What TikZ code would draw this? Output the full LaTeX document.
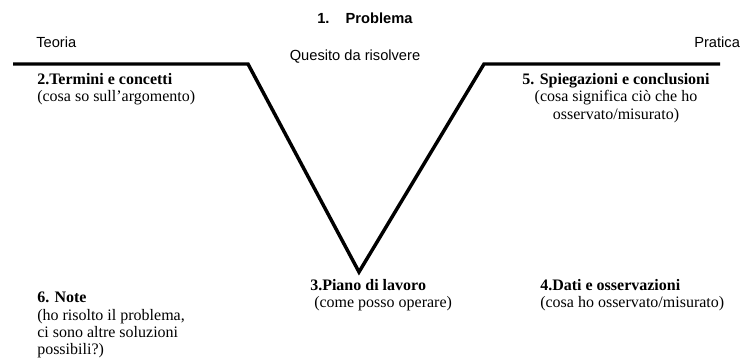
\documentclass[tikz,border=0pt]{standalone}
\usepackage{fontspec}
\setmainfont{Liberation Serif}
\newfontfamily\arialfont{Liberation Sans}
\usetikzlibrary{positioning}

\tikzset{
  vline/.style={line width=2.6pt, line join=miter},
  headtext/.style={font=\arialfont\bfseries\fontsize{11}{13}\selectfont, inner sep=0pt},
  sidetext/.style={font=\arialfont\fontsize{11}{13}\selectfont, inner sep=0pt},
  fieldtext/.style={font=\fontsize{12}{13}\selectfont, inner sep=0pt},
}

\begin{document}
\begin{tikzpicture}[x=0.75pt,y=-0.75pt]
  \useasboundingbox (0,0) rectangle (742,359);
  % the V
  \coordinate (lstart) at (13,64);
  \coordinate (lknee) at (248,64);
  \coordinate (tip) at (359,272);
  \coordinate (rknee) at (484,64);
  \coordinate (rend) at (720,64);
  \draw[vline] (lstart) -- (lknee) -- (tip) -- (rknee) -- (rend);

  % top labels
  \node[headtext, anchor=west] (prob) at (317,18) {1.\hspace{1.1em}Problema};
  \node[sidetext] (quesito) at (355,57) {Quesito da risolvere};
  \node[sidetext, anchor=west] (teoria) at (36,42) {Teoria};
  \node[sidetext, anchor=west] (pratica) at (694,42) {Pratica};

  % fields
  \node[fieldtext, align=left, anchor=north west] (termini) at (37,73)
    {\textbf{2.Termini e concetti}\\(cosa so sull'argomento)};
  \node[fieldtext, align=center, anchor=north] (spieg) at (616,73)
    {\textbf{5. Spiegazioni e conclusioni}\\(cosa significa ciò che ho\\osservato/misurato)};
  \node[fieldtext, align=left, anchor=north west] (piano) at (310,279)
    {\textbf{3.Piano di lavoro}\\\ (come posso operare)};
  \node[fieldtext, align=left, anchor=north west] (dati) at (540,279)
    {\textbf{4.Dati e osservazioni}\\(cosa ho osservato/misurato)};
  \node[fieldtext, align=left, anchor=north west] (note) at (37,292)
    {\textbf{6. Note}\\(ho risolto il problema,\\ci sono altre soluzioni\\possibili?)};
\end{tikzpicture}
\end{document}
